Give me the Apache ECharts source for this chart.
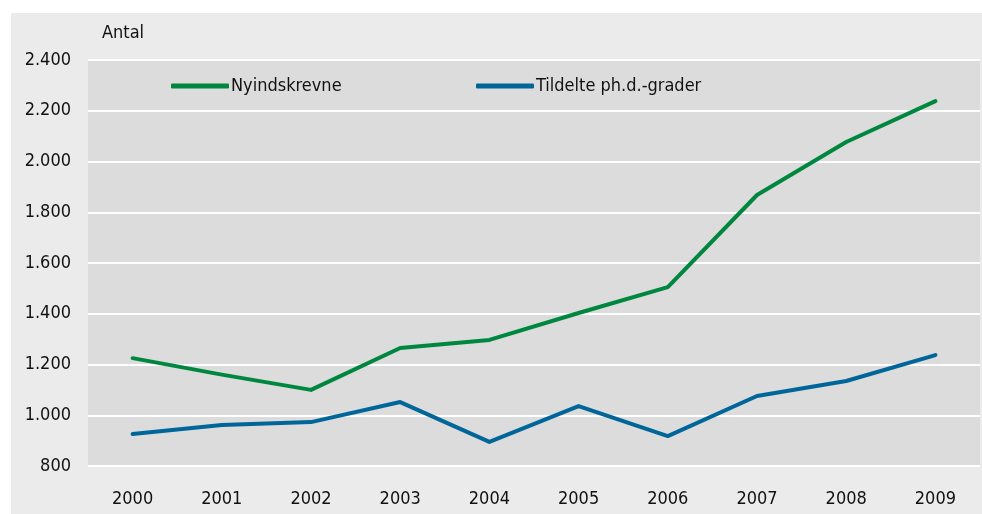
<!DOCTYPE html>
<html>
<head>
    <meta charset="utf-8">
    <title>Antal</title>
    <script src="https://cdn.jsdelivr.net/npm/echarts@6/dist/echarts.min.js"></script>
    <style>
        html, body { margin: 0; padding: 0; background: #ffffff; }
        #chart { width: 982px; height: 514px; }
    </style>
</head>
<body>
    <div id="chart"></div>
    <script>
        // data
        var years = ['2000', '2001', '2002', '2003', '2004', '2005', '2006', '2007', '2008', '2009'];
        var nyindskrevne = [1225, 1160, 1100, 1265, 1297, 1403, 1505, 1868, 2077, 2238];
        var tildelte = [926, 962, 973, 1052, 895, 1036, 918, 1076, 1135, 1237];

        var FONT = '"DejaVu Sans Condensed", "Liberation Sans Narrow", sans-serif';
        var GREEN = '#00873f';
        var BLUE = '#00669a';

        var chart = echarts.init(document.getElementById('chart'));

        function fmt(v) {
            return String(v).replace(/\B(?=(\d{3})+(?!\d))/g, '.');
        }

        var option = {
            animation: false,
            graphic: [
                {
                    type: 'rect', left: 11, top: 13, z: -10,
                    shape: { width: 971, height: 501 },
                    style: { fill: '#ebebeb' }
                },
                {
                    type: 'text', left: 102, top: 24,
                    style: { text: 'Antal', fill: '#111', font: '18px ' + FONT }
                }
            ],
            legend: [
                {
                    left: 166, top: 72,
                    data: ['Nyindskrevne'],
                    icon: 'roundRect', itemWidth: 58, itemHeight: 5, itemGap: 4,
                    textStyle: { fontFamily: FONT, fontSize: 18, color: '#111', padding: [0, 0, 0, -3] }
                },
                {
                    left: 471, top: 72,
                    data: ['Tildelte ph.d.-grader'],
                    icon: 'roundRect', itemWidth: 58, itemHeight: 5,
                    textStyle: { fontFamily: FONT, fontSize: 18, color: '#111', padding: [0, 0, 0, -3] }
                }
            ],
            grid: {
                left: 88, right: 2, top: 60, bottom: 48,
                show: true, backgroundColor: '#dcdcdc', borderWidth: 0
            },
            xAxis: {
                type: 'category',
                data: years,
                boundaryGap: true,
                axisLine: { show: false },
                axisTick: { show: false },
                axisLabel: { fontFamily: FONT, fontSize: 18, color: '#111', margin: 24 }
            },
            yAxis: {
                type: 'value',
                min: 800, max: 2400, interval: 200,
                axisLine: { show: false },
                axisTick: { show: false },
                splitLine: { lineStyle: { color: '#ffffff', width: 2 } },
                axisLabel: {
                    fontFamily: FONT, fontSize: 18, color: '#111', margin: 17,
                    formatter: fmt
                }
            },
            series: [
                {
                    name: 'Nyindskrevne',
                    type: 'line',
                    data: nyindskrevne,
                    symbol: 'none',
                    itemStyle: { color: GREEN },
                    lineStyle: { color: GREEN, width: 4, cap: 'round', join: 'round' }
                },
                {
                    name: 'Tildelte ph.d.-grader',
                    type: 'line',
                    data: tildelte,
                    symbol: 'none',
                    itemStyle: { color: BLUE },
                    lineStyle: { color: BLUE, width: 4, cap: 'round', join: 'round' }
                }
            ]
        };

        chart.setOption(option);
    </script>
</body>
</html>
